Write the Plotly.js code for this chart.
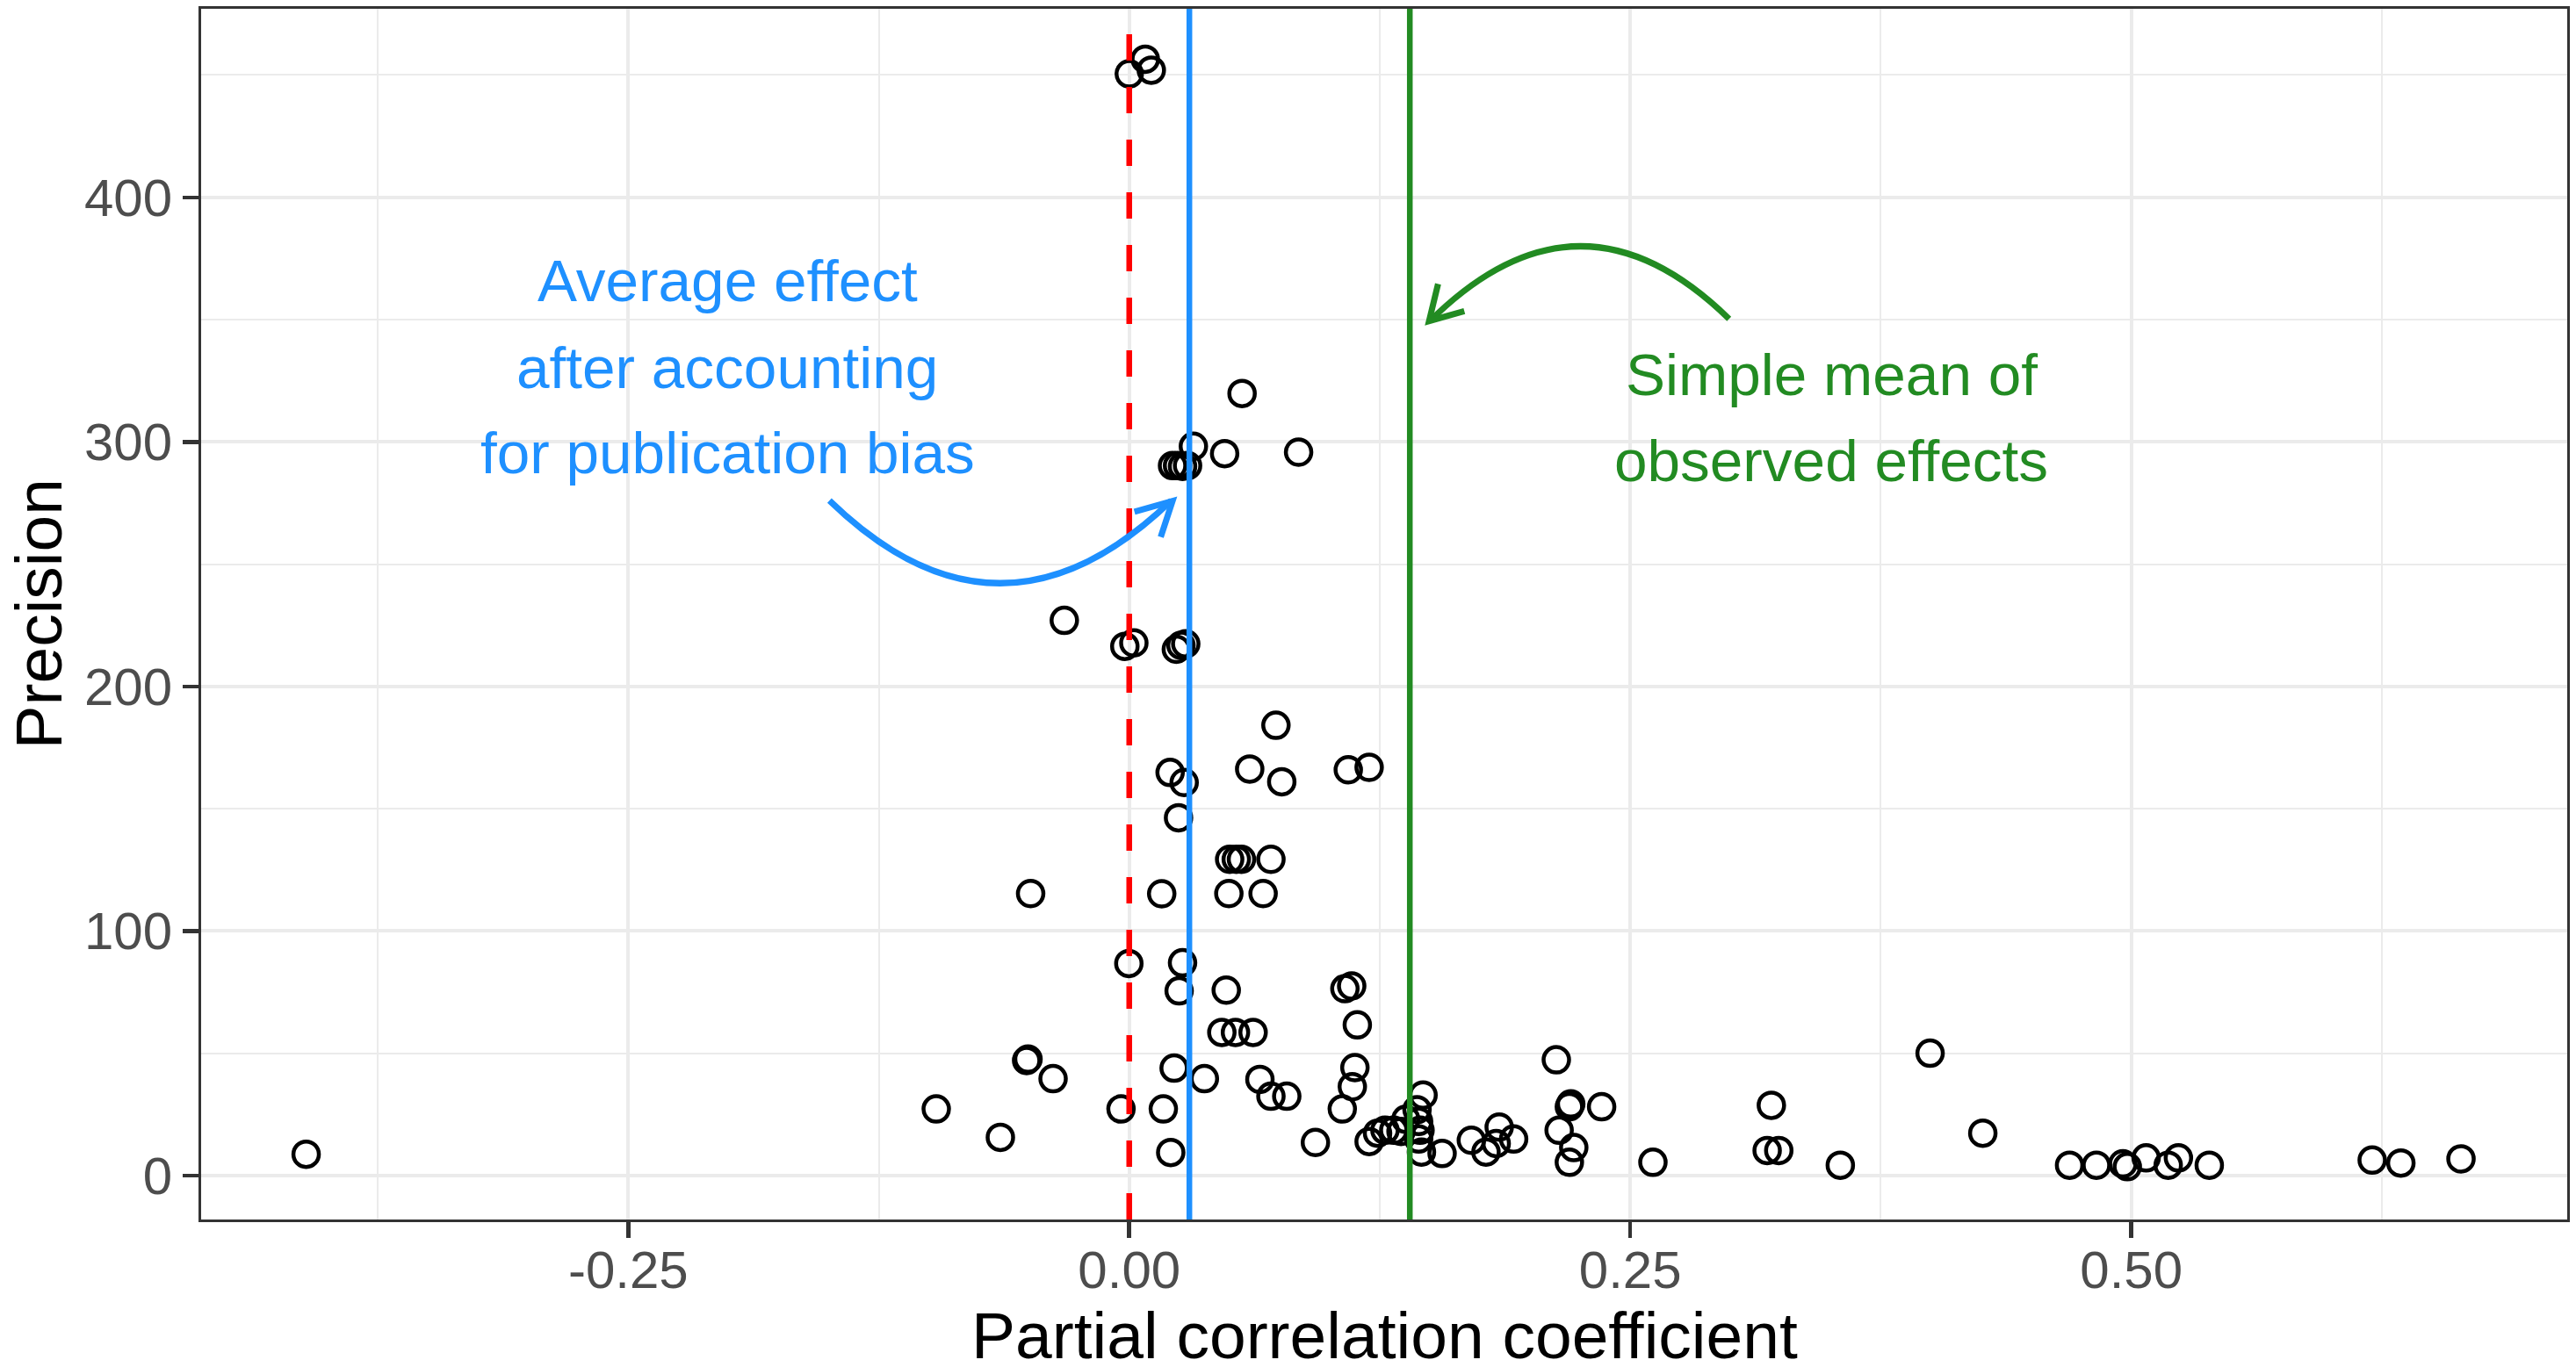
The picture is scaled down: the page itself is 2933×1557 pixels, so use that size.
<!DOCTYPE html>
<html>
<head>
<meta charset="utf-8">
<script src="https://cdn.plot.ly/plotly-3.0.1.min.js"></script>
<style>html,body{margin:0;padding:0;background:#fff;}#chart{width:2933px;height:1557px;}</style>
</head>
<body>
<div id="chart"></div>
<script>
// Partial correlation coefficient (x) and precision (y) of each estimate
const pcc = [
  0.000, 0.008, 0.011,
  0.0563, 0.0320, 0.0476, 0.0845, 0.0216, 0.0241, 0.0266, 0.0291,
  -0.0324, -0.0022, 0.0023, 0.0235, 0.0258, 0.0282,
  0.0732, 0.0204, 0.0274, 0.0601, 0.0761, 0.1093, 0.1197, 0.0246,
  0.0501, 0.0534, 0.0560, 0.0707, -0.0492, 0.0162, 0.0497, 0.0668,
  -0.0002, 0.0266, 0.0249, 0.0484, 0.1076, 0.1110, 0.1138, 0.0462, 0.0530, 0.0618,
  -0.0512, -0.0505, -0.0380, 0.0224, 0.0375, 0.0652, 0.0707, 0.0786, 0.1126, 0.1113, 0.1063,
  -0.4107, -0.0963, -0.0643, -0.0041, 0.0170, 0.0207, 0.0929,
  0.1197, 0.1239, 0.1276, 0.1320, 0.1356, 0.1380, 0.1466, 0.1436, 0.1444, 0.1451, 0.1444, 0.1458, 0.1561,
  0.1707, 0.1780, 0.1831, 0.1846, 0.1918, 0.2131, 0.2203, 0.2196, 0.2357, 0.2145, 0.2218, 0.2196,
  0.2613, 0.3204, 0.3183, 0.3241, 0.3548, 0.3996, 0.4259, 0.4692, 0.4826, 0.4958, 0.4980,
  0.5074, 0.5184, 0.5235, 0.5389, 0.6202, 0.6345, 0.6645
];
const precision = [
  450.5, 456.5, 452.0,
  319.8, 298.2, 295.2, 295.8, 290.3, 290.3, 290.0, 290.3,
  227.0, 216.4, 217.8, 215.2, 216.8, 217.4,
  184.1, 164.8, 160.7, 166.2, 161.0, 165.9, 166.9, 146.3,
  129.3, 129.3, 129.3, 129.3, 115.3, 115.2, 115.3, 115.3,
  86.7, 87.0, 75.5, 75.8, 76.4, 77.5, 61.6, 58.5, 58.5, 58.5,
  47.0, 47.6, 39.6, 43.9, 39.6, 39.3, 32.4, 32.4, 44.1, 36.3, 27.2,
  8.7, 27.2, 15.6, 27.2, 27.2, 9.4, 13.5,
  13.9, 17.3, 18.5, 18.5, 18.0, 23.0, 32.9, 26.9, 22.1, 18.5, 14.9, 9.6, 9.0,
  14.4, 9.6, 13.1, 19.8, 14.9, 47.3, 29.3, 28.1, 28.1, 18.5, 11.4, 5.4,
  5.4, 28.7, 10.2, 10.2, 4.2, 50.0, 17.3, 4.2, 4.2, 4.8, 3.6,
  7.2, 4.2, 7.2, 4.2, 6.3, 5.1, 6.8
];

// Reference lines
const zeroEffect = 0.0;
const correctedEffect = 0.03;
const simpleMean = 0.14;

// Axis ticks
const xTickVals = [-0.25, 0, 0.25, 0.5];
const xTickText = ["-0.25", "0.00", "0.25", "0.50"];
const xMinorVals = [-0.375, -0.125, 0.125, 0.375, 0.625];
const yTickVals = [0, 100, 200, 300, 400];
const yTickText = ["0", "100", "200", "300", "400"];
const yMinorVals = [50, 150, 250, 350, 450];

// Texts
const xTitle = "Partial correlation coefficient";
const yTitle = "Precision";
const blueLines = ["Average effect", "after accounting", "for publication bias"];
const greenLines = ["Simple mean of", "observed effects"];

const FONT = "Liberation Sans, Arial, sans-serif";
const BLUE = "#1E90FF", GREEN = "#228B22", RED = "#FF0000";

const trace = {
  x: pcc, y: precision, type: "scatter", mode: "markers",
  marker: {symbol: "circle-open", size: 29, color: "#000000", line: {width: 4.5, color: "#000000"}},
  hoverinfo: "skip", showlegend: false
};

function vline(x, color, dash) {
  return {type: "line", xref: "x", yref: "paper", x0: x, x1: x, y0: 0, y1: 1,
          line: {color: color, width: 6.5, dash: dash}, layer: "above"};
}

const shapes = [
  vline(zeroEffect, RED, "30px,30px"),
  vline(correctedEffect, BLUE, "solid"),
  vline(simpleMean, GREEN, "solid"),
  // blue curved arrow
  {type: "path", xref: "x", yref: "y", layer: "above",
   path: "M -0.1496 276.0 Q -0.0647 208.4 0.0210 276.0",
   line: {color: BLUE, width: 7}},
  {type: "path", xref: "x", yref: "y", layer: "above",
   path: "M 0.0026 271.4 L 0.0216 275.8 L 0.0157 261.1",
   line: {color: BLUE, width: 7}},
  // green curved arrow
  {type: "path", xref: "x", yref: "y", layer: "above",
   path: "M 0.2993 350.3 Q 0.2246 410.1 0.1500 349.4",
   line: {color: GREEN, width: 7}},
  {type: "path", xref: "x", yref: "y", layer: "above",
   path: "M 0.1541 364.6 L 0.1496 349.4 L 0.1672 353.5",
   line: {color: GREEN, width: 7}}
];

const blueY = [365.9, 330.4, 295.6];
const greenY = [327.6, 292.5];
const annotations = [];
blueLines.forEach((t, i) => annotations.push({
  x: -0.2004, y: blueY[i], xref: "x", yref: "y", text: t, showarrow: false,
  xanchor: "center", yanchor: "middle", font: {family: FONT, size: 67.5, color: BLUE}
}));
greenLines.forEach((t, i) => annotations.push({
  x: 0.3503, y: greenY[i], xref: "x", yref: "y", text: t, showarrow: false,
  xanchor: "center", yanchor: "middle", font: {family: FONT, size: 67.5, color: GREEN}
}));
// axis titles
annotations.push({
  x: 0.5, y: 0, xref: "paper", yref: "paper", text: xTitle, showarrow: false,
  xanchor: "center", yanchor: "middle", yshift: -132,
  font: {family: FONT, size: 75, color: "#000000"}
});
annotations.push({
  x: 0, y: 0.5, xref: "paper", yref: "paper", text: yTitle, showarrow: false,
  textangle: -90, xanchor: "center", yanchor: "middle", xshift: -186,
  font: {family: FONT, size: 75, color: "#000000"}
});

const axisCommon = {
  ticks: "outside", ticklen: 18, tickwidth: 4.5, tickcolor: "#333333",
  showgrid: true, gridcolor: "#EBEBEB", gridwidth: 4,
  zeroline: false, showline: true, mirror: true, linecolor: "#333333", linewidth: 3,
  tickfont: {family: FONT, size: 60, color: "#4D4D4D"}, tickmode: "array"
};

const layout = {
  width: 2933, height: 1557,
  margin: {l: 229, r: 10, t: 10, b: 168},
  paper_bgcolor: "#FFFFFF", plot_bgcolor: "#FFFFFF",
  font: {family: FONT},
  xaxis: Object.assign({}, axisCommon, {
    range: [-0.4631, 0.7175], tickvals: xTickVals, ticktext: xTickText,
    ticklabelstandoff: -15,
    minor: {tickvals: xMinorVals, showgrid: true, gridcolor: "#EBEBEB", gridwidth: 2, ticks: ""}
  }),
  yaxis: Object.assign({}, axisCommon, {
    range: [-18.0, 477.1], tickvals: yTickVals, ticktext: yTickText,
    minor: {tickvals: yMinorVals, showgrid: true, gridcolor: "#EBEBEB", gridwidth: 2, ticks: ""}
  }),
  shapes: shapes,
  annotations: annotations,
  showlegend: false
};

Plotly.newPlot("chart", [trace], layout, {displayModeBar: false, staticPlot: true});
</script>
</body>
</html>
